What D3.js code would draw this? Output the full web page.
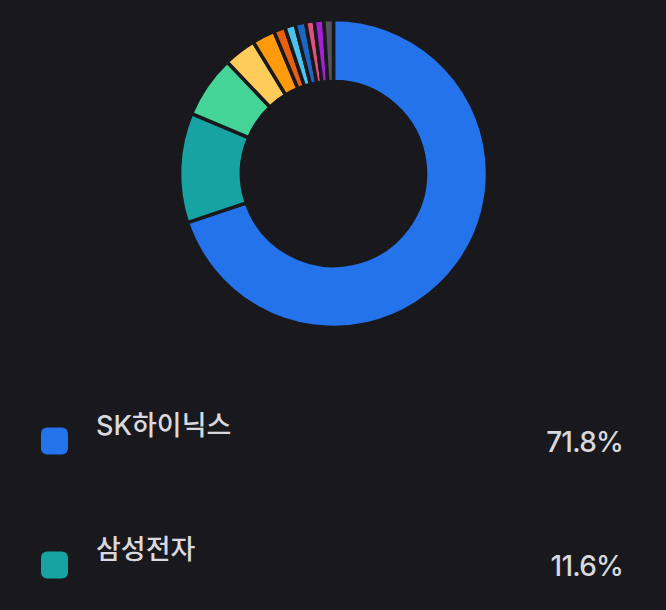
<!DOCTYPE html>
<html>
<head>
<meta charset="utf-8">
<script src="https://cdn.jsdelivr.net/npm/d3@7"></script>
<style>
  html, body { margin: 0; padding: 0; background: #18181d; }
  svg { display: block; }
</style>
</head>
<body>
<div id="chart"></div>
<script>
// slice shares as drawn in the ring (percent)
const holdings = ['SK하이닉스', '삼성전자', 'h3', 'h4', 'h5', 'h6', 'h7', 'h8', 'h9', 'h10', 'h11']
const shares = [69.7, 11.5, 6.5, 3.4, 2.4, 1.2, 1.1, 1.1, 0.9, 1.0, 1.0]
const colors = ['#2473ea', '#17a3a1', '#44d497', '#ffcb5b', '#ff9a0c', '#e6600f',
  '#4cc3ec', '#1d67c2', '#e0517b', '#a422d2', '#54545c']

// legend rows
const legendNames = ['SK하이닉스', '삼성전자']
const legendPct = ['71.8%', '11.6%']

const width = 666
const height = 610
const bg = '#18181d'

const svg = d3
  .select('#chart')
  .append('svg')
  .attr('width', width)
  .attr('height', height)

svg.append('rect').attr('width', width).attr('height', height).attr('fill', bg)

// Donut

const donut = svg.append('g').attr('transform', 'translate(333.5,173.5)')

const pie = d3.pie().sort(null).value(d => d)
const arc = d3.arc().innerRadius(92).outerRadius(154)

donut
  .selectAll('path')
  .data(pie(shares))
  .enter()
  .append('path')
  .attr('d', arc)
  .attr('fill', (d, i) => colors[i])
  .attr('stroke', bg)
  .attr('stroke-width', 3.5)

// Legend

const rowScale = d3.scalePoint().domain(legendNames).range([441, 565])

const rows = svg
  .selectAll('.legend-row')
  .data(legendNames)
  .enter()
  .append('g')
  .attr('class', 'legend-row')
  .attr('transform', d => 'translate(0,' + rowScale(d) + ')')

rows
  .append('rect')
  .attr('x', 41)
  .attr('y', -13.5)
  .attr('width', 27)
  .attr('height', 27)
  .attr('rx', 6)
  .attr('fill', (d, i) => colors[i])

rows
  .append('text')
  .attr('x', 96)
  .attr('y', -6)
  .attr('fill', '#d9d9dd')
  .attr('font-family', "Inter, 'Noto Sans CJK KR', sans-serif")
  .attr('font-weight', 500)
  .attr('font-size', 27)
  .text(d => d)

rows
  .append('text')
  .attr('x', 623)
  .attr('y', 11)
  .attr('text-anchor', 'end')
  .attr('fill', '#d9d9dd')
  .attr('font-family', "Inter, 'Noto Sans CJK KR', sans-serif")
  .attr('font-weight', 500)
  .attr('font-size', 28)
  .attr('letter-spacing', -0.8)
  .text((d, i) => legendPct[i])
</script>
</body>
</html>
